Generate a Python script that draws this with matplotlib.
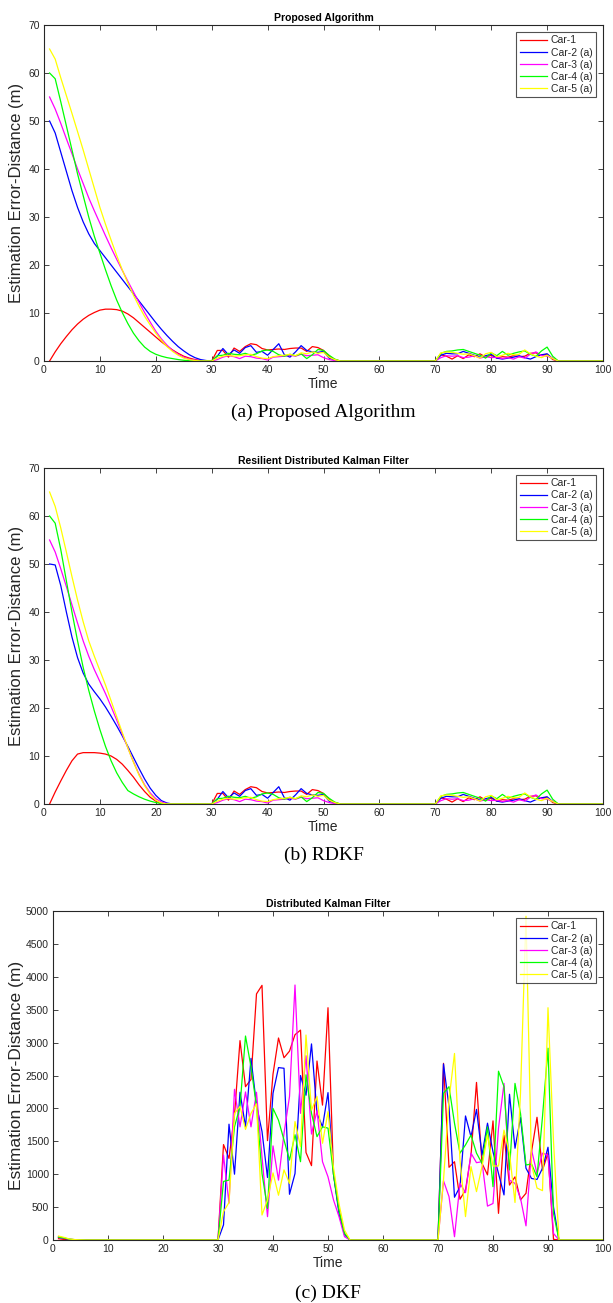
import matplotlib
matplotlib.use("Agg")
import matplotlib.pyplot as plt
import numpy as np


plt.rcParams["font.family"] = ["Liberation Sans", "DejaVu Sans"]

TIME = np.arange(1, 101)

CARS = ["Car-1", "Car-2 (a)", "Car-3 (a)", "Car-4 (a)", "Car-5 (a)"]
COLORS = ["#ff0000", "#0000ff", "#ff00ff", "#00ff00", "#ffff00"]


# =====================================================
# DATA  (t = 1..30 transient, bursts at t = 31.. and t = 71..)
# =====================================================

# proposed algorithm, initial convergence, t = 1..30
prop_head = [
    [0, 1.9, 3.6, 5.1, 6.5, 7.7, 8.7, 9.5, 10.1, 10.6, 10.8, 10.8, 10.7, 10.4, 9.8,
     9.0, 8.0, 7.0, 6.0, 5.0, 4.0, 3.1, 2.3, 1.6, 1.0, 0.6, 0.3, 0.1, 0, 0],
    [50, 47.5, 43.5, 39.5, 35.5, 32, 29, 26.5, 24.5, 23, 21.5, 20, 18.5, 17, 15.5,
     14, 12.5, 11, 9.5, 8, 6.6, 5.3, 4.1, 3.0, 2.1, 1.3, 0.7, 0.3, 0.1, 0],
    [55, 52.5, 49.5, 46.3, 43.2, 40, 37, 34, 31.3, 28.7, 26.1, 23.6, 21.2, 18.9, 16.6,
     14.4, 12.2, 10.1, 8.1, 6.2, 4.6, 3.3, 2.2, 1.4, 0.8, 0.4, 0.2, 0.05, 0, 0],
    [60, 58.8, 54, 49, 44, 39, 34.5, 30, 26, 22.5, 19, 15.7, 12.7, 10.1, 7.8,
     5.8, 4.2, 2.9, 2.0, 1.4, 1.0, 0.7, 0.5, 0.3, 0.15, 0.05, 0, 0, 0, 0],
    [65, 62.9, 59, 55.3, 51.6, 47.8, 44, 40, 36, 32, 28.5, 25.2, 22, 19, 16.2,
     13.7, 11.4, 9.3, 7.5, 5.8, 4.3, 3.0, 2.0, 1.2, 0.6, 0.3, 0.1, 0, 0, 0],
]

# RDKF, initial convergence, t = 1..30
rdkf_head = [
    [0, 2.5, 4.8, 7.0, 9.0, 10.4, 10.7, 10.7, 10.7, 10.6, 10.4, 10.0, 9.3, 8.3, 7.0,
     5.6, 4.0, 2.6, 1.4, 0.6, 0.1, 0, 0, 0, 0, 0, 0, 0, 0, 0],
    [50, 49.8, 45.5, 40, 34.8, 30.5, 27.3, 25, 23.4, 21.9, 20.2, 18.3, 16.3, 14.2, 12.0,
     9.7, 7.4, 5.2, 3.3, 1.8, 0.7, 0.2, 0, 0, 0, 0, 0, 0, 0, 0],
    [55, 52.5, 49, 45.3, 41.5, 37.7, 34, 30.8, 28, 25.5, 23, 20.3, 17.5, 14.6, 11.7,
     8.8, 6.2, 4.0, 2.3, 1.1, 0.4, 0.1, 0, 0, 0, 0, 0, 0, 0, 0],
    [60, 58.5, 53, 46.5, 40, 34, 28.5, 23.7, 19.4, 15.5, 12, 9, 6.5, 4.5, 2.8,
     2.1, 1.5, 1.0, 0.6, 0.3, 0.1, 0, 0, 0, 0, 0, 0, 0, 0, 0],
    [65, 62, 57.5, 52.5, 47.4, 42.5, 38, 34, 30.8, 27.8, 24.8, 21.5, 18.2, 14.9, 11.7,
     8.7, 6.0, 3.8, 2.0, 0.8, 0.2, 0, 0, 0, 0, 0, 0, 0, 0, 0],
]

# attack windows, shared by the proposed algorithm and RDKF
small_burst1 = [  # t = 31..52
    [2.2, 2.2, 0.8, 2.7, 2.0, 3.0, 3.6, 3.4, 2.6, 2.3, 2.4, 2.5, 2.4, 2.6, 2.7, 2.7, 2.0, 3.0, 2.8, 2.2, 1.0, 0.3],
    [1.0, 2.6, 1.3, 2.3, 1.6, 2.8, 3.2, 1.8, 2.0, 1.2, 2.4, 3.6, 1.3, 0.8, 1.9, 3.2, 2.2, 1.9, 1.8, 2.0, 0.6, 0.2],
    [0.3, 0.8, 1.1, 0.9, 0.5, 1.0, 0.9, 0.6, 0.5, 0.2, 0.8, 0.9, 1.0, 1.2, 1.0, 1.4, 1.1, 1.2, 1.3, 0.7, 0.3, 0.1],
    [1.1, 1.2, 1.6, 1.4, 1.3, 1.6, 1.2, 1.5, 2.1, 2.3, 2.0, 1.3, 1.0, 1.4, 1.1, 1.5, 0.5, 1.3, 2.4, 2.2, 1.2, 0.4],
    [0.6, 1.0, 1.2, 1.0, 1.1, 1.3, 1.4, 0.9, 0.6, 0.5, 0.9, 1.1, 1.2, 1.4, 1.1, 1.7, 1.5, 1.9, 1.6, 1.8, 0.8, 0.3],
]
small_burst2 = [  # t = 71..91
    [1.3, 1.0, 0.4, 1.1, 0.5, 1.3, 0.9, 1.5, 0.8, 1.2, 0.6, 0.9, 0.8, 1.1, 0.9, 1.0, 1.6, 1.7, 1.2, 1.4, 0.3],
    [1.2, 1.6, 1.5, 1.5, 2.0, 1.6, 1.2, 0.8, 1.1, 1.4, 0.6, 0.4, 0.6, 0.8, 1.1, 0.7, 0.4, 0.9, 1.3, 1.5, 0.5],
    [0.7, 1.1, 1.0, 1.1, 0.7, 0.8, 1.1, 0.6, 0.9, 0.7, 0.8, 0.5, 0.7, 0.4, 0.9, 0.6, 1.4, 1.9, 1.1, 1.0, 0.6],
    [1.6, 2.0, 2.1, 2.3, 2.4, 2.0, 1.6, 1.2, 0.6, 1.7, 1.1, 2.0, 1.2, 1.6, 1.9, 2.1, 1.4, 1.0, 2.1, 2.9, 1.0],
    [1.7, 1.9, 1.8, 1.6, 1.4, 1.5, 1.1, 0.6, 1.5, 1.8, 0.9, 1.2, 1.6, 1.3, 1.4, 2.3, 1.5, 1.0, 0.7, 1.2, 0.5],
]

# DKF, t = 1..5
dkf_head = [
    [20, 8, 3, 1, 0],
    [40, 25, 10, 4, 1],
    [50, 30, 12, 5, 1],
    [45, 30, 12, 5, 1],
    [60, 40, 15, 6, 2],
]
dkf_burst1 = [  # t = 31..53
    [1450, 1240, 1900, 3030, 2330, 2440, 3740, 3870, 1510, 2520, 3070, 2770, 2870, 3120, 3190, 1330, 1130,
     2720, 2050, 3530, 1000, 450, 100],
    [230, 1760, 1000, 2245, 1720, 2760, 2050, 1650, 950, 2230, 2620, 2610, 695, 1010, 2500, 2200, 2980,
     1925, 1720, 2240, 1000, 400, 80],
    [1290, 560, 2290, 1720, 2250, 1720, 2245, 1265, 355, 1430, 910, 1620, 2180, 3875, 1925, 2800, 1610,
     1965, 1190, 960, 610, 355, 50],
    [890, 910, 1720, 2030, 3100, 2630, 2030, 1010, 480, 2000, 1820, 1520, 1215, 1600, 1190, 2510, 1925,
     1570, 1720, 1700, 1000, 450, 100],
    [430, 570, 1925, 2030, 1680, 1925, 2070, 380, 610, 1020, 680, 1065, 860, 1800, 1420, 3115, 1975,
     2180, 1470, 1950, 1100, 550, 150],
]
dkf_burst2 = [  # t = 71..91
    [2685, 1105, 1190, 620, 760, 1290, 2395, 1165, 990, 1810, 405, 1595, 835, 960, 610, 710, 1340, 1865,
     1060, 1320, 10],
    [2675, 2025, 650, 810, 1885, 1570, 1985, 1290, 1775, 1340, 1010, 685, 2215, 1395, 1860, 1090, 935, 920,
     1090, 1410, 500],
    [900, 660, 50, 860, 720, 1320, 1175, 1190, 515, 555, 1700, 2380, 910, 860, 635, 215, 1370, 1010,
     1320, 1290, 100],
    [2230, 2330, 1775, 1320, 1445, 1595, 1320, 1165, 1720, 810, 2565, 2330, 1065, 2380, 1925, 1140, 1155,
     960, 1875, 2915, 405],
    [910, 2130, 2835, 1215, 355, 1115, 735, 1115, 1595, 1125, 1125, 1670, 1320, 570, 2230, 4920, 1150,
     790, 750, 3530, 1500],
]


def series(head, burst1, burst2):
    # error is zero outside the listed windows
    y = np.zeros(len(TIME))
    y[:len(head)] = head
    y[30:30 + len(burst1)] = burst1
    y[70:70 + len(burst2)] = burst2
    return y


# =====================================================
# FIGURE
# =====================================================

fig = plt.figure(figsize=(6.13, 13.03), dpi=100)

W, H = 613.0, 1303.0


def axes_px(left, top, right, bottom):
    return fig.add_axes([left / W, 1 - bottom / H, (right - left) / W, (bottom - top) / H])


def draw_panel(ax, heads, b1, b2, ymax, ystep, title, ylab_x, ylab_size):
    for i in range(5):
        ax.plot(TIME, series(heads[i], b1[i], b2[i]), color=COLORS[i], lw=0.9, label=CARS[i])

    ax.set_xlim(0, 100)
    ax.set_ylim(0, ymax)
    ax.set_xticks(np.arange(0, 101, 10))
    ax.set_yticks(np.arange(0, ymax + 1, ystep))

    ax.tick_params(direction="in", length=3.5, width=0.6, top=True, right=True,
                   labelsize=7.5, colors="#262626", pad=3)
    for s in ax.spines.values():
        s.set_color("#262626")
        s.set_linewidth(0.8)

    ax.set_title(title, fontsize=7.5, fontweight="bold", pad=3)
    ax.set_xlabel("Time", fontsize=10, color="#262626", labelpad=1)
    ax.set_ylabel("Estimation Error-Distance (m)", fontsize=ylab_size, color="#262626", va="center")
    ax.yaxis.set_label_coords(ylab_x, 0.5)

    leg = ax.legend(loc="upper right", fontsize=7.5, frameon=True, fancybox=False,
                    handlelength=2.6, handletextpad=0.4, labelspacing=0.2,
                    borderpad=0.3, borderaxespad=0.7)
    leg.get_frame().set_edgecolor("#262626")
    leg.get_frame().set_linewidth(0.8)
    for txt in leg.get_texts():
        txt.set_color("#262626")


ax_a = axes_px(44, 25, 603, 361)
draw_panel(ax_a, prop_head, small_burst1, small_burst2, 70, 10,
           "Proposed Algorithm", -0.05, 12)

ax_b = axes_px(44, 468, 603, 804)
draw_panel(ax_b, rdkf_head, small_burst1, small_burst2, 70, 10,
           "Resilient Distributed Kalman Filter", -0.05, 12)

ax_c = axes_px(53, 911, 603, 1240)
draw_panel(ax_c, dkf_head, dkf_burst1, dkf_burst2, 5000, 500,
           "Distributed Kalman Filter", -0.067, 12.5)

# sub-figure captions
serif = ["Liberation Serif", "DejaVu Serif"]
fig.text(323.5 / W, 1 - 412 / H, "(a) Proposed Algorithm", family=serif, fontsize=14,
         ha="center", va="center")
fig.text(323.5 / W, 1 - 855 / H, "(b) RDKF", family=serif, fontsize=14,
         ha="center", va="center")
fig.text(328 / W, 1 - 1293 / H, "(c) DKF", family=serif, fontsize=14,
         ha="center", va="center")

fig.savefig("out.png", dpi=100)
